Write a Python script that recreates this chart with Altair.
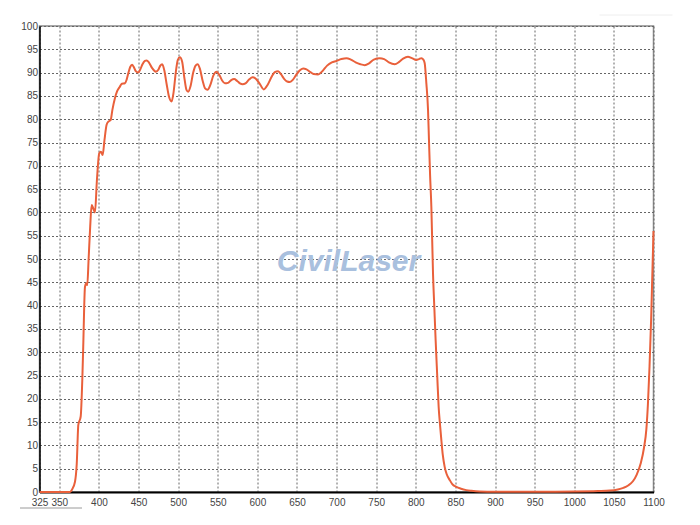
import altair as alt
import pandas as pd

# Transmission curve (wavelength nm, transmission %)
wavelength = [
    325, 340, 355, 363.5, 366, 369.8, 372, 374, 377, 379, 380.2, 382.4, 384, 385.3,
    387, 389, 390.8, 392.5, 395, 397.5, 400.4, 402.5, 404.7, 407, 409.7, 412, 414.8,
    417, 420.2, 423, 426.5, 429, 432.8, 435, 437, 439.5, 441.8, 444, 446.5, 449.6,
    452, 455, 458, 460.2, 463, 467, 471.9, 475, 477.5, 479.9, 482.5, 485.5, 488.5,
    491.7, 494, 497, 499.5, 502.2, 505, 508, 510.5, 512.7, 515.5, 519, 522, 524.5,
    527.5, 531, 534, 537.1, 540.5, 544.5, 548.5, 552, 555.5, 559, 563, 567, 570.7,
    574.5, 578, 581.3, 585, 589.5, 593.9, 598, 603, 608.1, 613, 618, 622, 626.2,
    630, 634, 637.5, 641, 645, 649, 653, 657.7, 662, 667, 671, 676.6, 682, 688,
    694, 699.8, 706, 712.4, 718, 724, 730, 735.5, 741, 747, 754.4, 760, 766, 773.3,
    779, 784, 790.1, 795, 800.7, 804, 807, 809.5, 811.2, 813.3, 815.4, 816.6, 818,
    819.6, 821.7, 823.5, 825, 827, 828.8, 830.5, 832.2, 834, 836.4, 839, 842.7, 846,
    851.1, 857, 863.7, 870, 880.5, 900, 950, 1000, 1030, 1045, 1055, 1062, 1068,
    1074, 1079, 1084, 1088, 1091, 1093, 1095, 1097, 1098.5, 1100,
]
transmission = [
    0, 0, 0, 0, 0.5, 2.2, 6, 14.4, 16.2, 24, 31.2, 44, 44.8, 44.4,
    50, 57, 61.6, 61, 60, 67, 72.7, 73, 72.3, 75.5, 78.8, 79.5, 79.8,
    82, 84.5, 86, 87, 87.6, 87.7, 88.5, 89.8, 91.2, 91.7, 91.2, 90.3, 90,
    90.6, 91.8, 92.5, 92.6, 92.2, 91, 90.2, 90.6, 91.5, 91.8, 90.5, 87.5, 84.8,
    83.8, 85.5, 90, 92.7, 93.3, 92.4, 88.7, 86.3, 85.9, 87, 90, 91.5, 91.8,
    90.8, 88.2, 86.6, 86.3, 87.3, 89.4, 90.2, 89.5, 88.3, 87.7, 87.8, 88.4, 88.6,
    88.2, 87.7, 87.5, 87.7, 88.5, 89, 88.7, 87.6, 86.4, 87.4, 89.1, 90.1, 90.3,
    89.6, 88.6, 88.1, 88, 88.5, 89.5, 90.4, 90.9, 90.7, 90.1, 89.7, 89.6, 90.3, 91.5,
    92.2, 92.5, 92.9, 93.1, 92.8, 92.2, 91.8, 91.6, 92, 92.8, 93.1, 92.9, 92.2, 91.8,
    92.3, 93, 93.4, 93.1, 92.7, 92.9, 93.1, 92.8, 92, 87.7, 82, 75.5, 68,
    61.2, 46.9, 39, 32.6, 25, 18.3, 14.5, 11.2, 8, 5.4, 3.8, 2.6, 1.7,
    1.1, 0.7, 0.4, 0.25, 0.1, 0.05, 0.05, 0.1, 0.2, 0.3, 0.55, 0.9, 1.4,
    2.3, 3.8, 6.2, 9.5, 13.5, 19, 27, 37, 46.5, 56,
]
x_ticks = [325, 350, 400, 450, 500, 550, 600, 650, 700, 750, 800, 850, 900, 950, 1000, 1050, 1100]
y_ticks = list(range(0, 101, 5))

df = pd.DataFrame({"wavelength": wavelength, "transmission": transmission})

label_font = "Liberation Sans Narrow, Arial Narrow, Liberation Sans"

base = alt.Chart(df)

line = base.mark_line(color="#E9603B", strokeWidth=2, interpolate="monotone").encode(
    x=alt.X(
        "wavelength:Q",
        scale=alt.Scale(domain=[325, 1100], nice=False, zero=False),
        axis=alt.Axis(
            values=x_ticks, format="d", title=None, ticks=False, labelPadding=5,
            domainColor="#000", domainWidth=2, labelFontSize=10, labelFont=label_font,
            labelColor="#444", grid=True, gridColor="#666", gridDash=[2, 2], gridWidth=1,
            labelFlush=False, labelOverlap=False,
        ),
    ),
    y=alt.Y(
        "transmission:Q",
        scale=alt.Scale(domain=[0, 100], nice=False),
        axis=alt.Axis(
            values=y_ticks, format="d", title=None, ticks=False, labelPadding=2,
            domainColor="#000", domainWidth=1.5, labelFontSize=10, labelFont=label_font,
            labelColor="#444", grid=True, gridColor="#666", gridDash=[2, 2], gridWidth=1,
            labelFlush=False, labelOverlap=False,
        ),
    ),
)

watermark = alt.Chart(pd.DataFrame({"t": ["CivilLaser"]})).mark_text(
    font="Liberation Sans", fontSize=30, fontWeight="bold", fontStyle="italic",
    color="#A9C0DE", align="center", baseline="middle",
).encode(text="t:N", x=alt.value(309), y=alt.value(236))

underline = alt.Chart(pd.DataFrame({"a": [0]})).mark_rule(color="#9a9a9a", strokeWidth=1).encode(
    x=alt.value(-19.5), x2=alt.value(42.5), y=alt.value(482)
)
topline = alt.Chart(pd.DataFrame({"a": [0]})).mark_rule(color="#eeeeee", strokeWidth=1).encode(
    x=alt.value(560), x2=alt.value(633), y=alt.value(-11)
)

chart = (
    alt.layer(watermark, line, underline, topline)
    .properties(
        width=614, height=466,
        autosize=alt.AutoSizeParams(type="none"),
        padding={"left": 31.5, "top": 18, "right": 30, "bottom": 30},
        background="white",
    )
    .configure_view(stroke="#8a8a8a", strokeWidth=1.5)
)

chart.save("out.html", embed_options={"renderer": "svg", "actions": False})
